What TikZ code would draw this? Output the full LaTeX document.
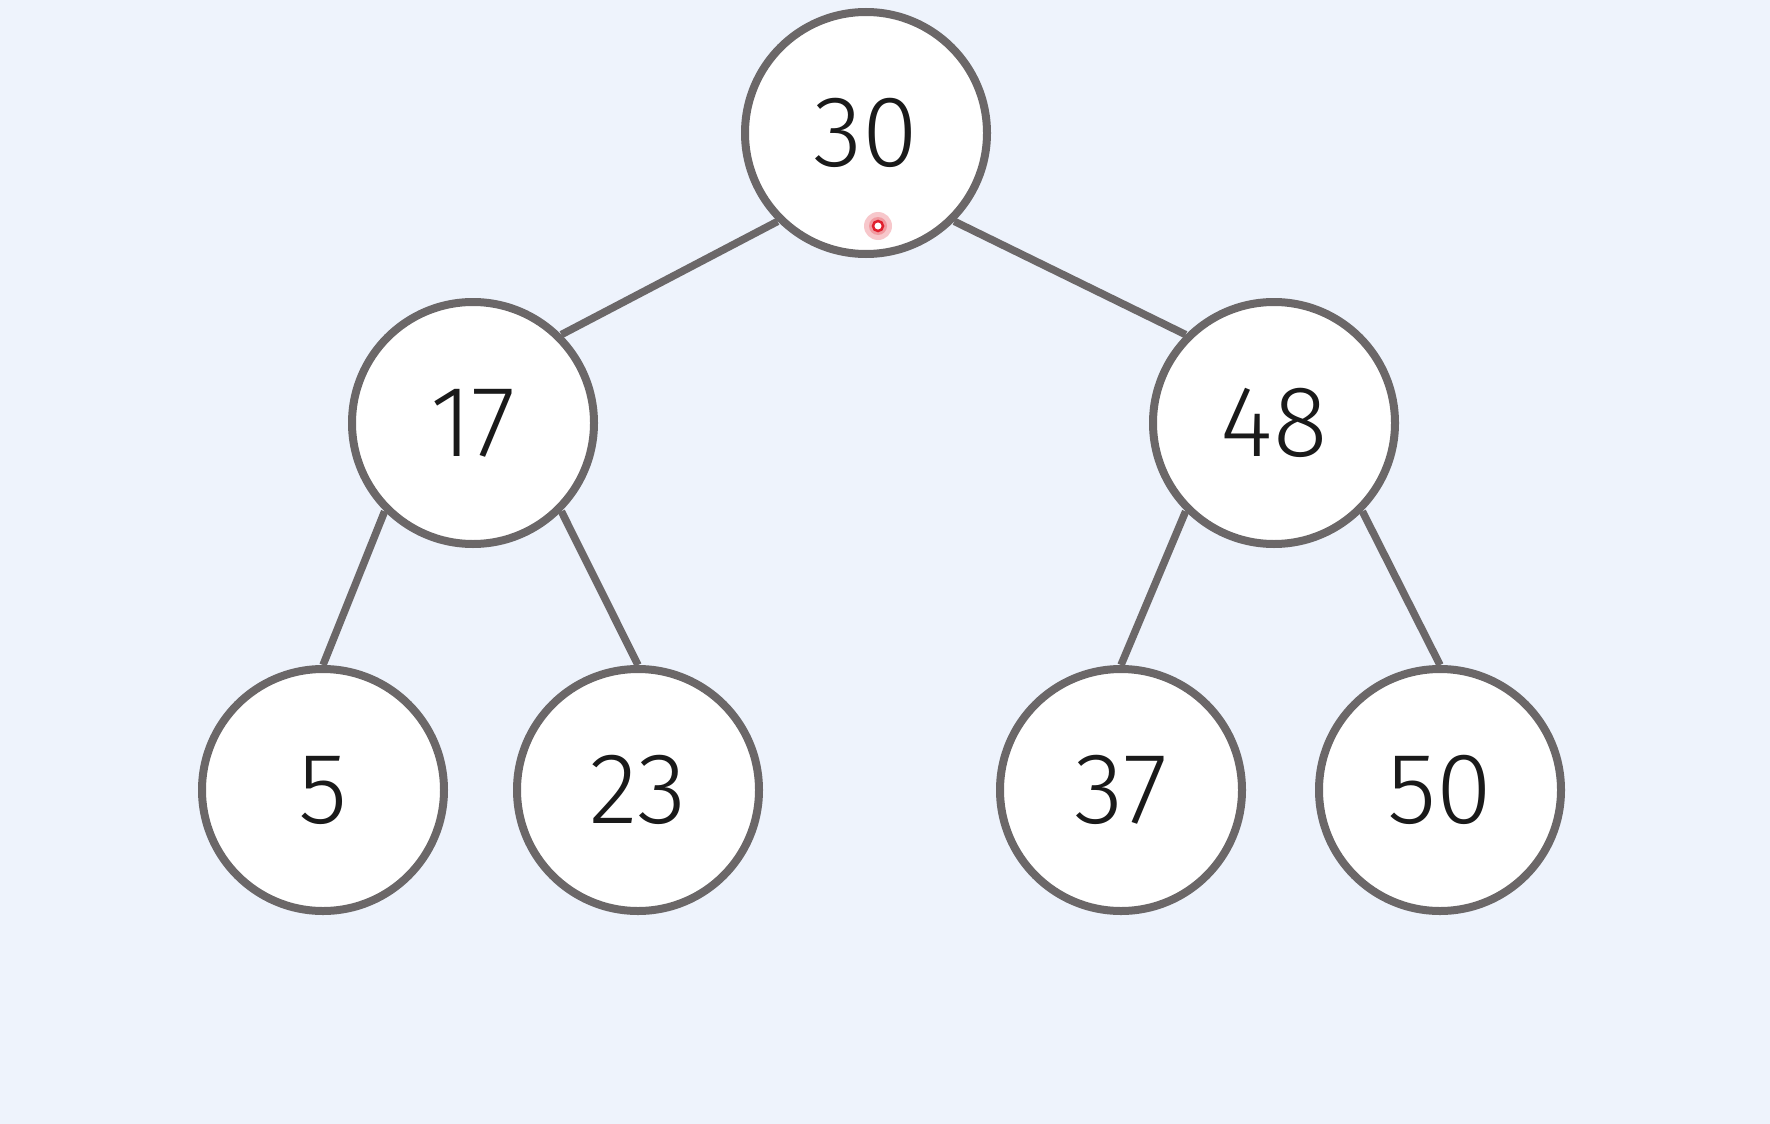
\documentclass[tikz,border=0pt]{standalone}
\usepackage{fontspec}
\setmainfont{Fira Sans}[UprightFont={* Light}]
\definecolor{bgc}{HTML}{EEF3FC}
\definecolor{edgec}{HTML}{6B6768}
\definecolor{txtc}{HTML}{1A1A1A}
\definecolor{dotc}{HTML}{E0202E}
\pgfdeclarelayer{backdrop}
\pgfdeclarelayer{edges}
\pgfsetlayers{backdrop,edges,main}
\tikzset{
  treenode/.style={circle, draw=edgec, line width=8pt, fill=white, minimum size=242pt, inner sep=0pt, text=txtc, font=\fontsize{101}{101}\selectfont},
  treeedge/.style={draw=edgec, line width=7.5pt}
}
\begin{document}
\begin{tikzpicture}[x=1pt,y=-1pt]
\begin{pgfonlayer}{backdrop}
\fill[bgc] (0,0) rectangle (1770,1124);
\end{pgfonlayer}
\useasboundingbox (0,0) rectangle (1770,1124);
\node[treenode] (n30) at (866,133) {30};
\node[treenode] (n17) at (473,423) {17};
\node[treenode] (n48) at (1274,423) {48};
\node[treenode] (n5) at (323,790) {5};
\node[treenode] (n23) at (638,790) {23};
\node[treenode] (n37) at (1121,790) {37};
\node[treenode] (n50) at (1440,790) {50};
\begin{pgfonlayer}{edges}
\draw[treeedge] (n30.south west) -- (n17.north east);
\draw[treeedge] (n30.south east) -- (n48.north west);
\draw[treeedge] (n17.south west) -- (n5.north);
\draw[treeedge] (n17.south east) -- (n23.north);
\draw[treeedge] (n48.south west) -- (n37.north);
\draw[treeedge] (n48.south east) -- (n50.north);
\end{pgfonlayer}
\coordinate (cursor) at (878,226);
\fill[dotc!25] (cursor) circle (14pt);
\fill[dotc!45] (cursor) circle (9pt);
\draw[dotc, line width=2.5pt, fill=white] (cursor) circle (5pt);
\end{tikzpicture}
\end{document}
